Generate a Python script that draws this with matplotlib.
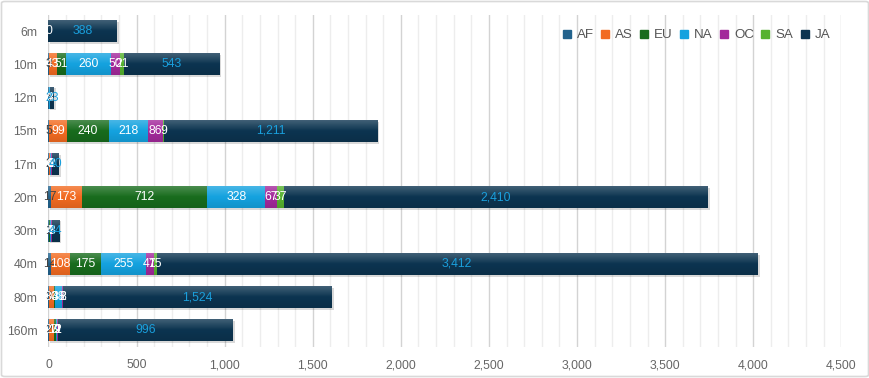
import numpy as np
import matplotlib
matplotlib.use("Agg")
import matplotlib.pyplot as plt
import matplotlib.patheffects as pe
from matplotlib.lines import Line2D
from matplotlib.patches import FancyBboxPatch
from matplotlib.ticker import MultipleLocator, FuncFormatter

plt.rcParams['font.family'] = ['Liberation Sans', 'DejaVu Sans']

categories = ['6m', '10m', '12m', '15m', '17m', '20m', '30m', '40m', '80m', '160m']
series_names = ['AF', 'AS', 'EU', 'NA', 'OC', 'SA', 'JA']
AF = [0, 3, 1, 5, 2, 17, 1, 14, 3, 2]
AS = [None, 43, 4, 99, 6, 173, 4, 108, 30, 27]
EU = [None, 51, None, 240, None, 712, 4, 175, 4, 12]
NA = [None, 260, 3, 218, 4, 328, 7, 255, 38, 9]
OC = [None, 50, 3, 86, 8, 67, 3, 47, 8, 2]
SA = [None, 21, None, 9, 2, 37, None, 15, 2, 1]
JA = [388, 543, 23, 1211, 40, 2410, 44, 3412, 1524, 996]

colors = ['#22628c', '#f26b21', '#186c1d', '#14a2df', '#a3299b', '#56b22f', '#0c3450']
label_colors = ['#444444', 'white', 'white', 'white', 'white', 'white', '#1a9fdc']

series = [AF, AS, EU, NA, OC, SA, JA]

fig = plt.figure(figsize=(8.7, 3.78), dpi=100)
ax = fig.add_axes([48.5 / 870, 1 - 347 / 378, (841.3 - 48.5) / 870, (347 - 14.5) / 378])

y = np.arange(len(categories))
h = 0.66
left = np.zeros(len(categories))
shadow = [pe.SimplePatchShadow(offset=(1.3, -1.3), shadow_rgbFace='#000000', alpha=0.15), pe.Normal()]

for s, (name, vals) in enumerate(zip(series_names, series)):
    v = np.array([np.nan if x is None else x for x in vals], dtype=float)
    vz = np.nan_to_num(v)
    bars = ax.barh(y, vz, left=left, height=h, color=colors[s], zorder=3, linewidth=0)
    for b in bars:
        b.set_path_effects(shadow)
    for i in range(len(categories)):
        if not np.isnan(v[i]):
            c = label_colors[s]
            if s == 0 and v[i] == 0:
                c = 'white'
            ax.text(left[i] + vz[i] / 2, y[i], f"{int(v[i]):,}", ha='center', va='center',
                    color=c, fontsize=8.8, zorder=6)
    left = left + vz

# gradient highlight over each stacked bar
n = 40
grad = np.zeros((n, 1, 4))
t = np.linspace(0, 1, n)
for k in range(n):
    if t[k] < 0.5:
        grad[k, 0, :3] = 1.0
        grad[k, 0, 3] = 0.22 * (1 - t[k] / 0.5)
    else:
        grad[k, 0, :3] = 0.0
        grad[k, 0, 3] = 0.10 * (t[k] - 0.5) / 0.5
for i in range(len(categories)):
    ax.imshow(grad, extent=(0, left[i], y[i] + h / 2, y[i] - h / 2), origin='upper',
              aspect='auto', zorder=4, interpolation='bilinear')

ax.set_xlim(0, 4500)
ax.set_ylim(len(categories) - 0.5, -0.5)
ax.set_yticks(y)
ax.set_yticklabels(categories)
ax.xaxis.set_major_locator(MultipleLocator(500))
ax.xaxis.set_minor_locator(MultipleLocator(100))
ax.xaxis.set_major_formatter(FuncFormatter(lambda x, p: f"{int(x):,}"))
ax.grid(axis='x', which='major', color='#d3d3d3', linewidth=1, zorder=0)
ax.grid(axis='x', which='minor', color='#ededed', linewidth=1, zorder=0)
ax.set_axisbelow(True)
for sp in ax.spines.values():
    sp.set_visible(False)
ax.tick_params(axis='both', which='both', length=0, labelsize=8.8, colors='#666666')
ax.tick_params(axis='y', pad=8)
ax.tick_params(axis='x', pad=9)

handles = [Line2D([0], [0], marker='s', linestyle='none', markersize=5.5, markerfacecolor=c,
                  markeredgecolor=c) for c in colors]
leg = ax.legend(handles, series_names, loc='center right', bbox_to_anchor=(0.986, 0.938), ncol=7,
                frameon=False, handletextpad=0.3, columnspacing=0.4, handlelength=0.9,
                borderpad=0, borderaxespad=0, fontsize=9.6, labelcolor='#555555')
leg.set_zorder(10)

border = FancyBboxPatch((1.5 / 870, 1.5 / 378), 1 - 3 / 870, 1 - 3 / 378,
                        boxstyle='round,pad=0,rounding_size=0.004', transform=fig.transFigure,
                        facecolor='none', edgecolor='#d9d9d9', linewidth=1.2)
fig.patches.append(border)

fig.savefig('out.png', dpi=100)
